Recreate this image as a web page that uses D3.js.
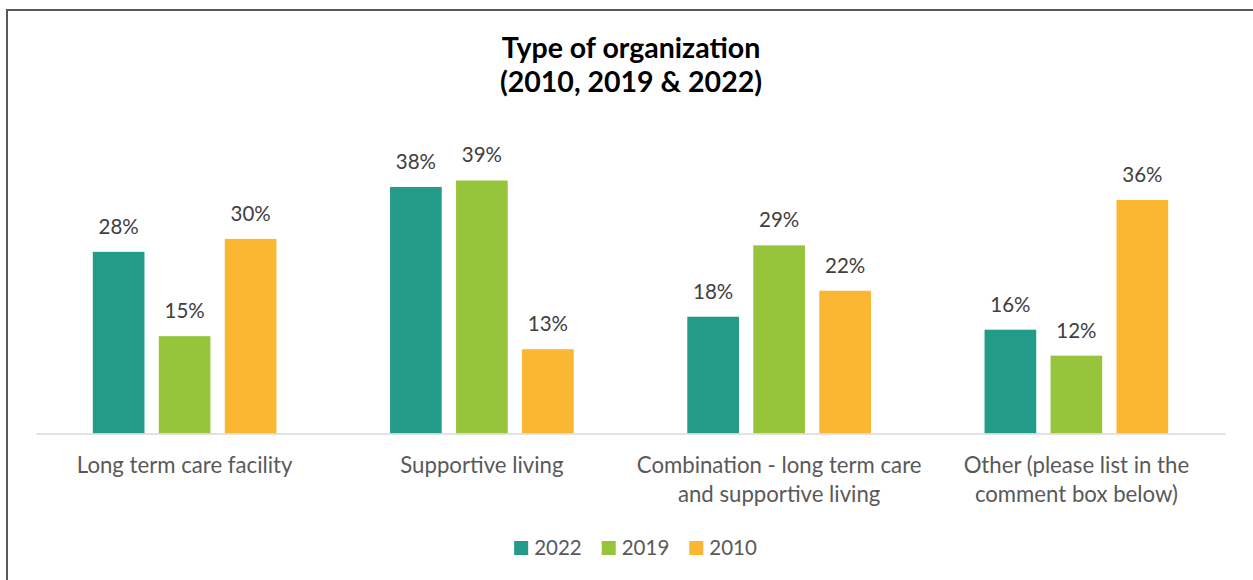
<!DOCTYPE html>
<html>
<head>
<meta charset="utf-8">
<script src="https://cdn.jsdelivr.net/npm/d3@7/dist/d3.min.js"></script>
<style>
  html, body { margin: 0; padding: 0; background: #fff; }
  svg { display: block; font-family: Lato, "Open Sans", sans-serif; }
</style>
</head>
<body>
<svg id="chart" width="1253" height="580"></svg>
<script>
// Survey: type of organization, share of respondents by year
const categories = [
  "Long term care facility",
  "Supportive living",
  "Combination - long term care\nand supportive living",
  "Other (please list in the\ncomment box below)"
];
const seriesNames = ["2022", "2019", "2010"];
const values2022 = [28, 38, 18, 16];
const values2019 = [15, 39, 29, 12];
const values2010 = [30, 13, 22, 36];
const seriesColors = ["#239B89", "#96C53B", "#FBB731"];
const titleLines = ["Type of organization", "(2010, 2019 & 2022)"];

const seriesValues = [values2022, values2019, values2010];

const svg = d3.select("#chart");
const W = 1253, H = 580;
const plot = { left: 36, right: 1225, top: 174, bottom: 433.5 };

// outer frame (extends past the right and bottom edges)
svg.append("rect")
  .attr("x", 7).attr("y", 10)
  .attr("width", W + 20).attr("height", H + 20)
  .attr("fill", "none").attr("stroke", "#595959").attr("stroke-width", 2);

// title
svg.append("text")
  .attr("x", 631).attr("y", 58)
  .attr("text-anchor", "middle")
  .attr("font-weight", "bold").attr("font-size", 28.5)
  .attr("fill", "#000")
  .selectAll("tspan").data(titleLines).join("tspan")
  .attr("x", 631).attr("dy", (d, i) => i === 0 ? 0 : 34)
  .text(d => d);

const x0 = d3.scaleBand()
  .domain(categories)
  .range([plot.left, plot.right])
  .padding(0);

const groupInset = 56.8;
const x1 = d3.scaleBand()
  .domain(seriesNames)
  .range([groupInset, x0.bandwidth() - groupInset])
  .paddingInner(0.217)
  .paddingOuter(0);

const y = d3.scaleLinear().domain([0, 40]).range([plot.bottom, plot.top]);

const rows = categories.map((c, ci) => ({
  category: c,
  bars: seriesNames.map((s, si) => ({ series: s, color: seriesColors[si], value: seriesValues[si][ci] }))
}));

const groups = svg.append("g").selectAll("g").data(rows).join("g")
  .attr("transform", d => `translate(${x0(d.category)},0)`);

groups.selectAll("rect").data(d => d.bars).join("rect")
  .attr("x", d => x1(d.series))
  .attr("y", d => y(d.value))
  .attr("width", x1.bandwidth())
  .attr("height", d => y(0) - y(d.value))
  .attr("fill", d => d.color);

groups.selectAll("text.value").data(d => d.bars).join("text")
  .attr("class", "value")
  .attr("x", d => x1(d.series) + x1.bandwidth() / 2)
  .attr("y", d => y(d.value) - 18)
  .attr("text-anchor", "middle")
  .attr("font-size", 20.5)
  .attr("fill", "#404040")
  .text(d => d.value + "%");

// category axis
const xAxis = svg.append("g")
  .attr("transform", `translate(0,${plot.bottom})`)
  .call(d3.axisBottom(x0).tickSize(0).tickPadding(0));

xAxis.select(".domain")
  .attr("stroke", "#d9d9d9").attr("stroke-width", 1.5);

xAxis.selectAll(".tick text")
  .attr("font-family", "Lato, 'Open Sans', sans-serif")
  .attr("font-size", 22.2)
  .attr("fill", "#595959")
  .attr("y", 0).attr("dy", null)
  .each(function(d) {
    const t = d3.select(this);
    const lines = d.split("\n");
    t.text(null);
    lines.forEach((line, i) => {
      t.append("tspan").attr("x", 0).attr("y", 39.5 + i * 29).text(line);
    });
  });

// legend
const legend = svg.append("g");
const items = legend.selectAll("g").data(seriesNames).join("g");
items.append("rect")
  .attr("width", 14).attr("height", 14)
  .attr("y", -14)
  .attr("fill", (d, i) => seriesColors[i]);
items.append("text")
  .attr("x", 20).attr("y", 0)
  .attr("font-size", 20.5).attr("fill", "#595959")
  .text(d => d);
let cursor = 0;
items.each(function() {
  const g = d3.select(this);
  g.attr("transform", `translate(${cursor},0)`);
  const tw = g.select("text").node().getComputedTextLength();
  cursor += 20 + tw + 20;
});
const legendWidth = cursor - 20;
legend.attr("transform", `translate(${635.5 - legendWidth / 2},555)`);
</script>
</body>
</html>
